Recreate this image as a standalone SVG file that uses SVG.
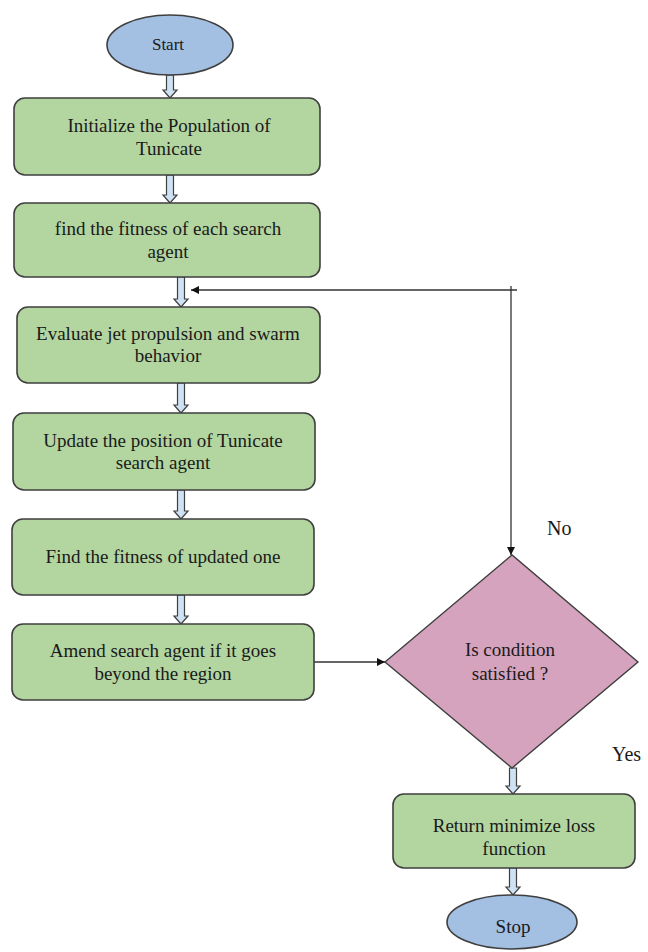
<svg xmlns="http://www.w3.org/2000/svg" width="648" height="952" viewBox="0 0 648 952">
<style>
.box{fill:#b3d5a0;stroke:#3f3f3f;stroke-width:1.6}
.term{fill:#a3bfe2;stroke:#3f3f3f;stroke-width:1.6}
.dec{fill:#d6a3be;stroke:#3f3f3f;stroke-width:1.4}
.blk{fill:#cfe2f3;stroke:#3f3f3f;stroke-width:1.2}
.ln{fill:none;stroke:#333;stroke-width:1.3}
.t{font-family:'Liberation Serif','Tinos','DejaVu Serif',serif;font-size:19px;fill:#1a1a1a;text-anchor:middle}
.lbl{text-anchor:start;font-size:20px}
</style>
<defs>
<marker id="ah" viewBox="0 0 10 10" refX="10" refY="5" markerWidth="8" markerHeight="8" markerUnits="userSpaceOnUse" orient="auto"><path d="M0,0 L10,5 L0,10 Z" fill="#111"/></marker>
</defs>
<rect width="648" height="952" fill="#fff"/>
<g id="connectors">
<path class="blk" d="M166.5,75 L173.5,75 L173.5,90 L177,90 L170,98 L163,90 L166.5,90 Z"/>
<path class="blk" d="M166.5,175 L173.5,175 L173.5,195 L177,195 L170,203 L163,195 L166.5,195 Z"/>
<path class="blk" d="M177.5,277 L184.5,277 L184.5,299 L188,299 L181,307 L174,299 L177.5,299 Z"/>
<path class="blk" d="M177.5,383 L184.5,383 L184.5,405 L188,405 L181,413 L174,405 L177.5,405 Z"/>
<path class="blk" d="M177.5,490 L184.5,490 L184.5,511 L188,511 L181,519 L174,511 L177.5,511 Z"/>
<path class="blk" d="M177.5,595 L184.5,595 L184.5,616 L188,616 L181,624 L174,616 L177.5,616 Z"/>
<path class="blk" d="M509.5,768 L516.5,768 L516.5,786 L520,786 L513,794 L506,786 L509.5,786 Z"/>
<path class="blk" d="M509.5,868 L516.5,868 L516.5,887 L520,887 L513,895 L506,887 L509.5,887 Z"/>
<path class="ln" d="M517,290 L191,290" marker-end="url(#ah)"/>
<path class="ln" d="M511,286 L511,555" marker-end="url(#ah)"/>
<path class="ln" d="M314,662 L385,662" marker-end="url(#ah)"/>
<text class="t lbl" x="547" y="535">No</text>
<text class="t lbl" x="612" y="761">Yes</text>
</g>
<g id="start">
<ellipse class="term" cx="170" cy="45" rx="63" ry="30"/>
<text class="t" x="168" y="50" style="font-size:17px">Start</text>
</g>
<g id="init">
<rect class="box" x="14" y="98" width="306" height="77" rx="11"/>
<text class="t" x="169" y="132">Initialize the Population of</text>
<text class="t" x="169" y="155">Tunicate</text>
</g>
<g id="fitness">
<rect class="box" x="14" y="203" width="306" height="74" rx="11"/>
<text class="t" x="168" y="235">find the fitness of each search</text>
<text class="t" x="168" y="258">agent</text>
</g>
<g id="evaluate">
<rect class="box" x="17" y="307" width="303" height="76" rx="11"/>
<text class="t" x="168" y="340">Evaluate jet propulsion and swarm</text>
<text class="t" x="168" y="362">behavior</text>
</g>
<g id="update">
<rect class="box" x="13" y="413" width="302" height="77" rx="11"/>
<text class="t" x="163" y="447">Update the position of Tunicate</text>
<text class="t" x="163" y="469">search agent</text>
</g>
<g id="fitness2">
<rect class="box" x="12" y="519" width="302" height="76" rx="11"/>
<text class="t" x="163" y="563">Find the fitness of updated one</text>
</g>
<g id="amend">
<rect class="box" x="12" y="624" width="302" height="76" rx="11"/>
<text class="t" x="163" y="657">Amend search agent if it goes</text>
<text class="t" x="163" y="680">beyond the region</text>
</g>
<g id="condition">
<polygon class="dec" points="385,662 512,555 638,662 512,768"/>
<text class="t" x="510" y="656">Is condition</text>
<text class="t" x="510" y="680">satisfied ?</text>
</g>
<g id="return">
<rect class="box" x="393" y="794" width="242" height="74" rx="11"/>
<text class="t" x="514" y="832">Return minimize loss</text>
<text class="t" x="514" y="855">function</text>
</g>
<g id="stop">
<ellipse class="term" cx="512" cy="922" rx="65" ry="27"/>
<text class="t" x="513" y="933">Stop</text>
</g>
</svg>
